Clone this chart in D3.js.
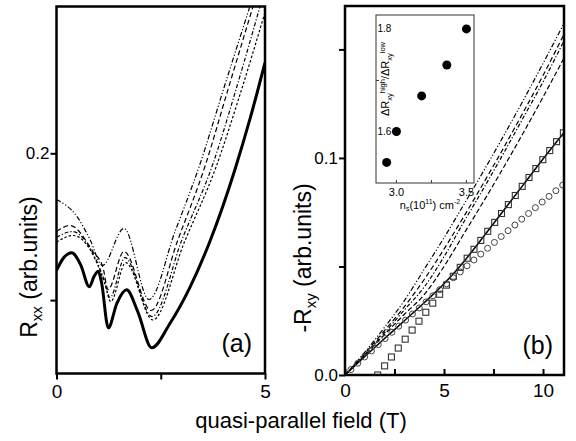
<!DOCTYPE html>
<html>
<head>
<meta charset="utf-8">
<script src="https://cdn.jsdelivr.net/npm/d3@7"></script>
<style>
  body { margin: 0; background: #fff; }
  svg { display: block; font-family: Arial, "Liberation Sans", sans-serif; }
</style>
</head>
<body>
<svg id="chart" width="576" height="441"></svg>
<script>
// panel (a): Rxx traces vs field (T)
const rxxSolidB = [0, 0.15, 0.365, 0.58, 0.787, 0.9, 1.0, 1.08, 1.242, 1.45, 1.68, 1.95, 2.283, 2.72, 3.2, 3.68, 4.28, 4.64, 5.0];
const rxxSolid  = [0.1202, 0.128, 0.1322, 0.124, 0.1091, 0.116, 0.1197, 0.112, 0.0811, 0.098, 0.107, 0.092, 0.0675, 0.0841, 0.1087, 0.1401, 0.1890, 0.2234, 0.2617];
const rxx1B = [0, 0.492, 0.803, 1.10, 1.619, 2.218, 2.842, 3.424, 4.041, 4.640];
const rxx1  = [0.1685, 0.1569, 0.1413, 0.1236, 0.1488, 0.1004, 0.1467, 0.1912, 0.2469, 0.3002];
const rxx2B = [0, 0.324, 0.875, 1.115, 1.235, 1.619, 2.266, 2.914, 3.561, 4.113, 4.712];
const rxx2  = [0.1467, 0.1508, 0.1331, 0.1222, 0.1072, 0.1331, 0.0929, 0.1413, 0.1912, 0.2435, 0.3000];
const rxx3B = [0, 0.372, 0.923, 1.139, 1.283, 1.643, 2.290, 3.010, 3.760, 4.305, 4.880];
const rxx3  = [0.1426, 0.1467, 0.1290, 0.1140, 0.1018, 0.1290, 0.0888, 0.1413, 0.1935, 0.2435, 0.3000];
const rxx4B = [0, 0.40, 0.95, 1.16, 1.30, 1.66, 2.31, 3.06, 3.83, 4.40, 5.0];
const rxx4  = [0.1395, 0.1440, 0.1265, 0.1110, 0.0990, 0.1255, 0.0865, 0.1390, 0.1910, 0.2400, 0.2960];

// panel (b): -Rxy vs field (T)
const rxyLineB = [0, 1, 2, 3, 4, 5, 6, 7, 8, 9, 10, 11.06];
const rxyLine1 = [0, 0.0105, 0.0220, 0.0343, 0.0487, 0.0632, 0.0785, 0.0940, 0.1100, 0.1265, 0.1435, 0.162];
const rxyLine2 = [0, 0.0100, 0.0205, 0.0315, 0.0440, 0.0580, 0.0730, 0.0885, 0.1045, 0.1210, 0.1380, 0.157];
const rxyLine3 = [0, 0.0095, 0.0195, 0.0300, 0.0405, 0.0545, 0.0705, 0.0860, 0.1020, 0.1185, 0.1350, 0.154];
const rxyLine4 = [0, 0.0092, 0.0187, 0.0280, 0.0370, 0.0500, 0.0650, 0.0800, 0.0955, 0.1115, 0.1280, 0.146];
const rxySolid = [0, 0.0085, 0.0168, 0.0250, 0.0333, 0.0420, 0.0522, 0.0638, 0.0757, 0.0876, 0.0995, 0.1117];

const circleB = [0.30, 0.645, 0.99, 1.335, 1.68, 2.025, 2.37, 2.715, 3.06, 3.405, 3.75, 4.095, 4.44, 4.785, 5.13, 5.475,
  5.82, 6.165, 6.51, 6.855, 7.20, 7.545, 7.89, 8.235, 8.58, 8.925, 9.27, 9.615, 9.96, 10.305, 10.65, 10.995];
const circleR = [0.0025, 0.0054, 0.0083, 0.0111, 0.0140, 0.0168, 0.0197, 0.0225, 0.0253, 0.0281, 0.0309, 0.0337, 0.0365, 0.0393, 0.0420, 0.0448,
  0.0475, 0.0503, 0.0530, 0.0557, 0.0584, 0.0611, 0.0638, 0.0665, 0.0691, 0.0718, 0.0744, 0.0771, 0.0797, 0.0823, 0.0849, 0.0875];
const squareB = [1.65, 2.00, 2.345, 2.69, 3.04, 3.39, 3.735, 4.08, 4.43, 4.78, 5.125, 5.47, 5.82, 6.17,
  6.515, 6.86, 7.21, 7.56, 7.905, 8.25, 8.60, 8.95, 9.295, 9.64, 9.99, 10.34, 10.685, 11.03];
const squareR = [0, 0.0042, 0.0083, 0.0124, 0.0165, 0.0207, 0.0248, 0.0289, 0.0331, 0.0372, 0.0414, 0.0455, 0.0496, 0.0538,
  0.0579, 0.0620, 0.0662, 0.0703, 0.0744, 0.0785, 0.0827, 0.0869, 0.0910, 0.0951, 0.0992, 0.1034, 0.1075, 0.1116];

// inset: ratio vs density
const insetNs = [2.93, 3.0, 3.18, 3.36, 3.5];
const insetRatio = [1.541, 1.601, 1.670, 1.730, 1.800];

const svg = d3.select('#chart');
svg.append('rect').attr('width', 576).attr('height', 441).attr('fill', '#fff');

const xa = d3.scaleLinear().domain([0, 5]).range([56.5, 265]);
const ya = d3.scaleLinear().domain([0.05, 0.3]).range([373.5, 6.5]);
const xb = d3.scaleLinear().domain([0, 11.06]).range([345, 564]);
const yb = d3.scaleLinear().domain([0, 0.17]).range([375, 6]);
const xi = d3.scaleLinear().domain([2.854, 3.554]).range([376, 474]);
const yi = d3.scaleLinear().domain([1.501, 1.827]).range([183, 15]);

const defs = svg.append('defs');
defs.append('clipPath').attr('id', 'clipA').append('rect')
  .attr('x', 56.5).attr('y', 6.5).attr('width', 208.5).attr('height', 367);
defs.append('clipPath').attr('id', 'clipB').append('rect')
  .attr('x', 345).attr('y', 6).attr('width', 219).attr('height', 369);

function drawTrace(g, xs, ys, x, y, dash, width) {
  const pts = xs.map((v, i) => [v, ys[i]]);
  g.append('path')
    .datum(pts)
    .attr('fill', 'none')
    .attr('stroke', '#000')
    .attr('stroke-width', width)
    .attr('stroke-dasharray', dash)
    .attr('d', d3.line().x(d => x(d[0])).y(d => y(d[1])).curve(d3.curveMonotoneX));
}

function styleAxis(g, size) {
  g.attr('font-family', null).attr('font-size', size);
  g.select('.domain').remove();
  g.selectAll('line').attr('stroke', '#000').attr('stroke-width', 2);
  g.selectAll('text').attr('fill', '#000');
}

// ---- panel (a)
const ga = svg.append('g').attr('clip-path', 'url(#clipA)');
drawTrace(ga, rxx1B, rxx1, xa, ya, '5,2,1.2,2,1.2,2', 1.2);
drawTrace(ga, rxx2B, rxx2, xa, ya, '5,3', 1.2);
drawTrace(ga, rxx3B, rxx3, xa, ya, '4,2,1.2,2', 1.2);
drawTrace(ga, rxx4B, rxx4, xa, ya, '2.5,2', 1.2);
drawTrace(ga, rxxSolidB, rxxSolid, xa, ya, null, 3);

svg.append('g').attr('transform', 'translate(56.5,0)')
  .call(d3.axisLeft(ya).tickValues([0.1, 0.2]).tickSize(6).tickPadding(1)
    .tickFormat(d => d === 0.2 ? '0.2' : ''))
  .call(g => styleAxis(g, 17));
svg.append('g').attr('transform', 'translate(0,373.5)')
  .call(d3.axisBottom(xa).tickValues([0, 2.5, 5]).tickSize(6).tickPadding(5)
    .tickFormat(d => d === 2.5 ? '' : String(d)))
  .call(g => styleAxis(g, 19));

svg.append('rect').attr('x', 56.5).attr('y', 6.5).attr('width', 208.5).attr('height', 367)
  .attr('fill', 'none').attr('stroke', '#000').attr('stroke-width', 2.5);

svg.append('text').attr('x', 252).attr('y', 352).attr('text-anchor', 'end')
  .attr('font-size', 25).text('(a)');

const labA = svg.append('text')
  .attr('transform', 'translate(37,267) rotate(-90)')
  .attr('text-anchor', 'middle').attr('font-size', 23);
labA.append('tspan').text('R');
labA.append('tspan').attr('font-size', 15).attr('dy', 5).text('xx');
labA.append('tspan').attr('dy', -5).text(' (arb.units)');

// ---- panel (b)
const gb = svg.append('g').attr('clip-path', 'url(#clipB)');
drawTrace(gb, rxyLineB, rxyLine1, xb, yb, '5,2,1.2,2,1.2,2', 1.2);
drawTrace(gb, rxyLineB, rxyLine2, xb, yb, '5,3', 1.2);
drawTrace(gb, rxyLineB, rxyLine3, xb, yb, '4,2,1.2,2', 1.2);
drawTrace(gb, rxyLineB, rxyLine4, xb, yb, '5,2.5', 1.2);
drawTrace(gb, rxyLineB, rxySolid, xb, yb, null, 1.5);

gb.selectAll('circle.c')
  .data(circleB.map((v, i) => [v, circleR[i]]))
  .enter().append('circle')
  .attr('class', 'c')
  .attr('cx', d => xb(d[0])).attr('cy', d => yb(d[1])).attr('r', 3)
  .attr('fill', 'none').attr('stroke', '#444').attr('stroke-width', 1);

gb.selectAll('rect.s')
  .data(squareB.map((v, i) => [v, squareR[i]]))
  .enter().append('rect')
  .attr('class', 's')
  .attr('x', d => xb(d[0]) - 3).attr('y', d => yb(d[1]) - 3)
  .attr('width', 6).attr('height', 6)
  .attr('fill', 'none').attr('stroke', '#333').attr('stroke-width', 1.1);

svg.append('g').attr('transform', 'translate(345,0)')
  .call(d3.axisLeft(yb).tickValues([0, 0.05, 0.1, 0.15]).tickSize(6).tickPadding(1)
    .tickFormat(d => d === 0 ? '0.0' : (d === 0.1 ? '0.1' : '')))
  .call(g => styleAxis(g, 17));
svg.append('g').attr('transform', 'translate(0,375)')
  .call(d3.axisBottom(xb).tickValues([0, 2.5, 5, 7.5, 10]).tickSize(-6).tickPadding(9)
    .tickFormat(d => (d === 2.5 || d === 7.5) ? '' : String(d)))
  .call(g => styleAxis(g, 19));

svg.append('rect').attr('x', 345).attr('y', 6).attr('width', 219).attr('height', 369)
  .attr('fill', 'none').attr('stroke', '#000').attr('stroke-width', 2.5);

svg.append('text').attr('x', 553).attr('y', 354).attr('text-anchor', 'end')
  .attr('font-size', 25).text('(b)');

const labB = svg.append('text')
  .attr('transform', 'translate(311,258) rotate(-90)')
  .attr('text-anchor', 'middle').attr('font-size', 23);
labB.append('tspan').text('-R');
labB.append('tspan').attr('font-size', 15).attr('dy', 5).text('xy');
labB.append('tspan').attr('dy', -5).text(' (arb.units)');

// ---- inset
const gi = svg.append('g');
gi.append('rect').attr('x', 376).attr('y', 15).attr('width', 98).attr('height', 168)
  .attr('fill', '#fff').attr('stroke', '#333').attr('stroke-width', 1);
gi.selectAll('circle')
  .data(insetNs.map((v, i) => [v, insetRatio[i]]))
  .enter().append('circle')
  .attr('cx', d => xi(d[0])).attr('cy', d => yi(d[1])).attr('r', 4.5).attr('fill', '#000');

[3.0, 3.25, 3.5].forEach(t => {
  gi.append('line').attr('x1', xi(t)).attr('x2', xi(t)).attr('y1', 183).attr('y2', 180)
    .attr('stroke', '#333').attr('stroke-width', 1);
});
[1.7].forEach(t => {
  gi.append('line').attr('x1', 376).attr('x2', 379).attr('y1', yi(t)).attr('y2', yi(t))
    .attr('stroke', '#333').attr('stroke-width', 1);
});
[3.0, 3.5].forEach(t => {
  gi.append('text').attr('x', xi(t)).attr('y', 196).attr('text-anchor', 'middle')
    .attr('font-size', 11).text(t.toFixed(1));
});
[1.6, 1.8].forEach(t => {
  gi.append('text').attr('x', 377.5).attr('y', yi(t)).attr('dy', '0.35em')
    .attr('font-size', 10).text(t.toFixed(1));
});

const nsLab = gi.append('text').attr('x', 430).attr('y', 209).attr('text-anchor', 'middle')
  .attr('font-size', 11);
nsLab.append('tspan').text('n');
nsLab.append('tspan').attr('font-size', 7).attr('dy', 2).text('s');
nsLab.append('tspan').attr('dy', -2).text('(10');
nsLab.append('tspan').attr('font-size', 7).attr('dy', -5).text('11');
nsLab.append('tspan').attr('dy', 5).text(') cm');
nsLab.append('tspan').attr('font-size', 7).attr('dy', -5).text('-2');

const ratioLab = gi.append('text')
  .attr('transform', 'translate(389.3,79) rotate(-90)')
  .attr('text-anchor', 'middle').attr('font-size', 11);
ratioLab.append('tspan').text('\u0394R');
ratioLab.append('tspan').attr('font-size', 7.5).attr('dy', 2.5).text('xy');
ratioLab.append('tspan').attr('font-size', 7.5).attr('dy', -7).text('high');
ratioLab.append('tspan').attr('dy', 4.5).text('/\u0394R');
ratioLab.append('tspan').attr('font-size', 7.5).attr('dy', 2.5).text('xy');
ratioLab.append('tspan').attr('font-size', 7.5).attr('dy', -7).text('low');

// shared x title
svg.append('text').attr('x', 301).attr('y', 428).attr('text-anchor', 'middle')
  .attr('font-size', 22).text('quasi-parallel field (T)');
</script>
</body>
</html>
